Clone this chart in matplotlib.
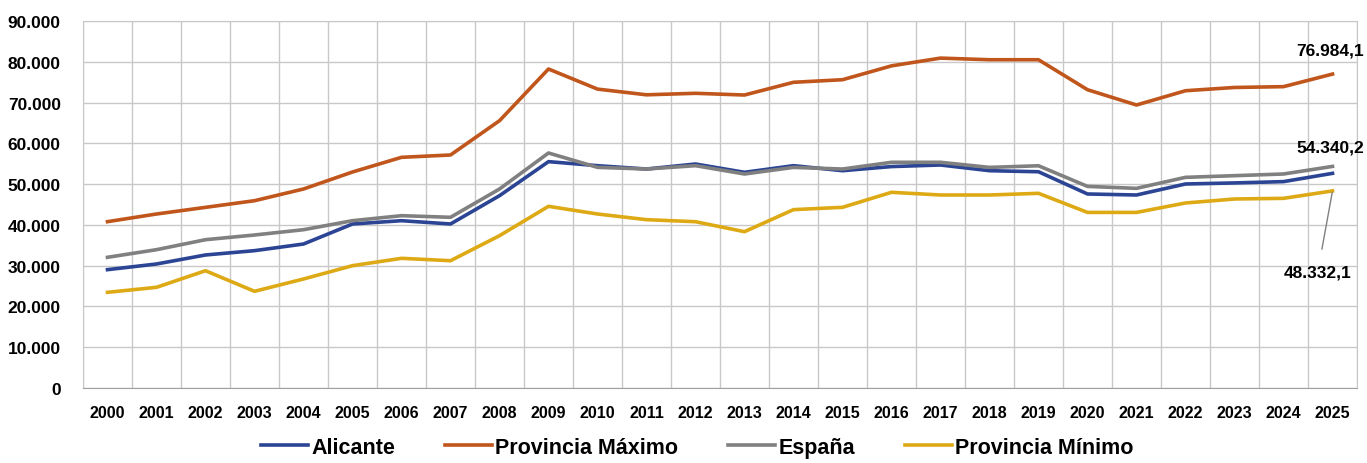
import matplotlib.pyplot as plt
from matplotlib.ticker import FuncFormatter, MultipleLocator

years = list(range(2000, 2026))
alicante = [29020, 30410, 32620, 33680, 35310, 40220, 41030, 40220, 47160, 55510,
            54520, 53700, 54930, 52890, 54520, 53290, 54300, 54690, 53290, 53030,
            47580, 47330, 50030, 50290, 50610, 52640]
prov_max = [40790, 42670, 44300, 45930, 48800, 52970, 56570, 57140, 65550, 78230,
            73300, 71900, 72270, 71850, 74970, 75600, 79000, 80900, 80500, 80500,
            73150, 69400, 72900, 73700, 73900, 76984.1]
espana = [32050, 33920, 36370, 37520, 38820, 41030, 42260, 41860, 48800, 57630,
          54110, 53700, 54520, 52480, 54100, 53700, 55350, 55350, 54100, 54500,
          49440, 48960, 51660, 52070, 52480, 54340.2]
prov_min = [23460, 24690, 28760, 23710, 26730, 30000, 31800, 31220, 37350, 44550,
            42670, 41280, 40780, 38330, 43740, 44310, 47990, 47330, 47330, 47740,
            43060, 43060, 45370, 46350, 46510, 48332.1]

series = [
    ("Alicante", alicante, "#2B4594"),
    ("Provincia Máximo", prov_max, "#C0561C"),
    ("España", espana, "#808080"),
    ("Provincia Mínimo", prov_min, "#DDAA16"),
]

plt.rcParams["font.family"] = ["Liberation Sans", "DejaVu Sans"]
plt.rcParams["font.weight"] = "bold"

fig = plt.figure(figsize=(13.67, 4.64), dpi=100)
ax = fig.add_axes([83 / 1367, 1 - 389 / 464, (1357 - 83) / 1367, (389 - 22) / 464])

x = list(range(len(years)))
for name, vals, color in series:
    ax.plot(x, vals, color=color, lw=2.6, label=name, solid_joinstyle="round")

ax.set_xlim(-0.5, len(years) - 0.5)
ax.set_ylim(0, 90000)
ax.yaxis.set_major_locator(MultipleLocator(10000))
ax.yaxis.set_major_formatter(FuncFormatter(lambda v, p: f"{int(v):,}".replace(",", ".")))
ax.set_xticks(x)
ax.set_xticklabels([str(y) for y in years])
ax.set_xticks([i - 0.5 for i in range(len(years) + 1)], minor=True)
ax.grid(True, which="minor", axis="x", color="#c8c8c8", lw=1)
ax.grid(True, which="major", axis="y", color="#c8c8c8", lw=1)
ax.tick_params(axis="both", which="both", length=0)
ax.tick_params(axis="x", pad=12, labelsize=11.5)
ax.tick_params(axis="y", pad=16, labelsize=12.5)
for s in ax.spines.values():
    s.set_color("#c8c8c8")
ax.spines["bottom"].set_color("#a0a0a0")
ax.set_axisbelow(True)

last = len(years) - 1
ax.annotate("76.984,1", xy=(last, prov_max[-1]), xytext=(last + 0.64, 83000),
            ha="right", va="center", fontsize=12.5, annotation_clip=False)
ax.annotate("54.340,2", xy=(last, espana[-1]), xytext=(last + 0.64, 59000),
            ha="right", va="center", fontsize=12.5, annotation_clip=False)
ax.annotate("48.332,1", xy=(last, prov_min[-1]), xytext=(last - 0.3, 28500),
            ha="center", va="center", fontsize=12.5,
            arrowprops=dict(arrowstyle="-", color="#808080", lw=1,
                            shrinkA=9, shrinkB=1))

leg = fig.legend(loc="lower center", bbox_to_anchor=(0.51, -0.03), ncol=4,
                 frameon=False, fontsize=15.5, handlelength=2.2, columnspacing=2.3,
                 handletextpad=0.15)

fig.savefig("out.png", dpi=100)
